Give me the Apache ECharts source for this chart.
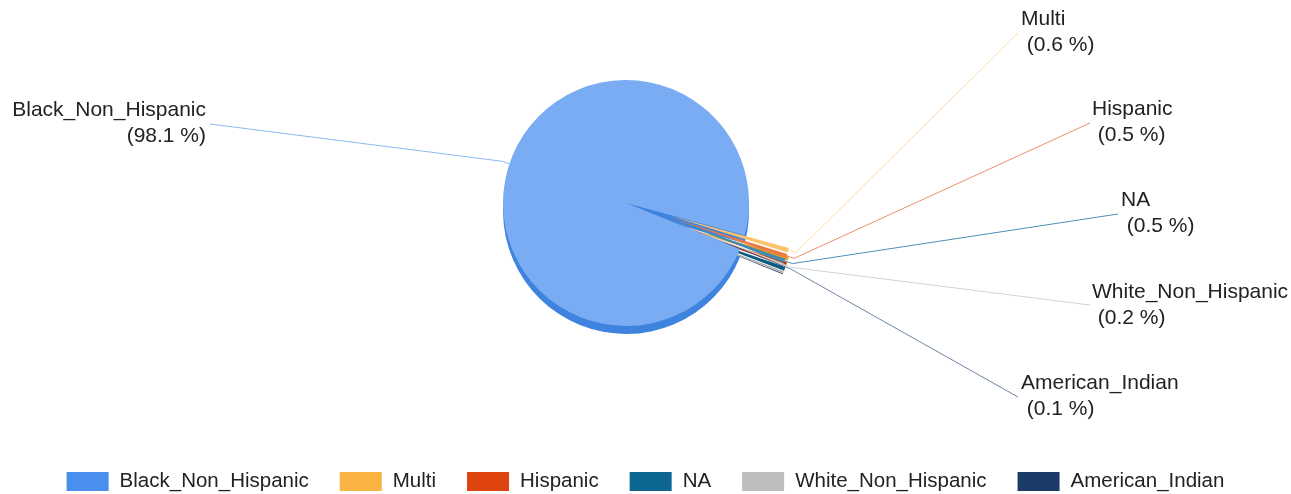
<!DOCTYPE html>
<html><head><meta charset="utf-8">
<script src="https://cdn.jsdelivr.net/npm/echarts@6/dist/echarts.min.js"></script>
<style>html,body{margin:0;padding:0;background:#fff}#c{width:1291px;height:494px}</style>
</head><body><div id="c"></div>
<script>
const categories = ['Black_Non_Hispanic', 'Multi', 'Hispanic', 'NA', 'White_Non_Hispanic', 'American_Indian'];
const shares = [98.1, 0.6, 0.5, 0.5, 0.2, 0.1];
const exploded = [false, true, true, true, true, true];

const legendColors = ['#4A8FEE', '#FBB443', '#E0440E', '#0E6693', '#BDBDBD', '#1C3A68'];
const topColors = ['#79ACF3', '#FDC36A', '#EB7A45', '#3D8DB3', '#D6D6D6', '#2B4C80'];
const sideColors = ['#3E83DE', '#E59A2A', '#C23A0A', '#0B5A82', '#A8A8A8', '#142C52'];
const lineColors = ['#8DB8F4', '#FCD9A0', '#EE8E6E', '#4A90B5', '#D2D2D2', '#6C82A6'];

const CX = 626, CY = 203, R = 123, DEPTH = 8, EXPLODE = 46;
const FONT = 'Liberation Sans, Arial, sans-serif';
// label anchor placement (layout only)
const labelAnchors = [
  { x: 206, y: 123, align: 'right', end: [210, 124] },
  { x: 1021, y: 32, align: 'left', end: [1018, 33] },
  { x: 1092, y: 122, align: 'left', end: [1090, 123] },
  { x: 1121, y: 213, align: 'left', end: [1118, 214] },
  { x: 1092, y: 305, align: 'left', end: [1090, 305] },
  { x: 1021, y: 396, align: 'left', end: [1018, 397] }
];

function makeData(colors, withSel) {
  return categories.map((name, i) => ({
    name: name, value: shares[i], selected: withSel ? exploded[i] : false,
    itemStyle: { color: colors ? colors[i] : 'rgba(0,0,0,0)' },
    labelLine: { lineStyle: { color: lineColors[i] } }
  }));
}

const chart = echarts.init(document.getElementById('c'), null, { renderer: 'canvas' });
chart.setOption({
  animation: false,
  legend: {
    left: 'center', top: 471, padding: 0,
    icon: 'rect', itemWidth: 42, itemHeight: 19, itemGap: 31,
    selectedMode: false,
    textStyle: { fontSize: 20.5, fontFamily: FONT, color: '#222', padding: [0, 0, 0, 6] },
    data: categories.map((n, i) => ({ name: n, itemStyle: { color: legendColors[i] } }))
  },
  series: [
    {
      type: 'pie', name: 'side', silent: true, z: 1,
      center: [CX, CY + DEPTH], radius: R, startAngle: -22, clockwise: true,
      selectedMode: 'multiple', selectedOffset: EXPLODE,
      label: { show: false }, labelLine: { show: false },
      emphasis: { disabled: true },
      itemStyle: { borderWidth: 0 },
      data: makeData(sideColors, true)
    },
    {
      type: 'pie', name: 'top', silent: true, z: 2,
      center: [CX, CY], radius: R, startAngle: -22, clockwise: true,
      selectedMode: 'multiple', selectedOffset: EXPLODE,
      label: { show: false }, labelLine: { show: false },
      emphasis: { disabled: true },
      itemStyle: { borderWidth: 0 },
      data: makeData(topColors, true)
    },
    {
      type: 'pie', name: 'labels', silent: true, z: 3,
      center: [CX, CY], radius: R, startAngle: -22, clockwise: true,
      selectedMode: false,
      percentPrecision: 1, avoidLabelOverlap: false,
      emphasis: { disabled: true },
      itemStyle: { borderWidth: 0 },
      label: {
        show: true, position: 'outside', color: '#222', fontSize: 21, fontFamily: FONT, lineHeight: 26,
        formatter: p => p.dataIndex === 0 ? p.name + '\n(' + p.percent.toFixed(1) + ' %)' : p.name + '\n (' + p.percent.toFixed(1) + ' %)'
      },
      labelLine: { show: true, length: 8, length2: 10, smooth: false, lineStyle: { width: 1 } },
      labelLayout: function (params) {
        const a = labelAnchors[params.dataIndex];
        const pts = params.labelLinePoints;
        let res = { x: a.x, y: a.y, align: a.align, verticalAlign: 'middle' };
        if (pts) {
          const s = pts[0];
          let vx = s[0] - CX, vy = s[1] - CY;
          const len = Math.sqrt(vx * vx + vy * vy) || 1;
          vx /= len; vy /= len;
          const off = exploded[params.dataIndex] ? EXPLODE : 0;
          const sx = s[0] + vx * off, sy = s[1] + vy * off;
          res.labelLinePoints = [
            [sx, sy],
            [sx + vx * 8, sy + vy * 8],
            [a.end[0], a.end[1]]
          ];
        }
        return res;
      },
      data: makeData(null, false)
    }
  ]
});
</script></body></html>
